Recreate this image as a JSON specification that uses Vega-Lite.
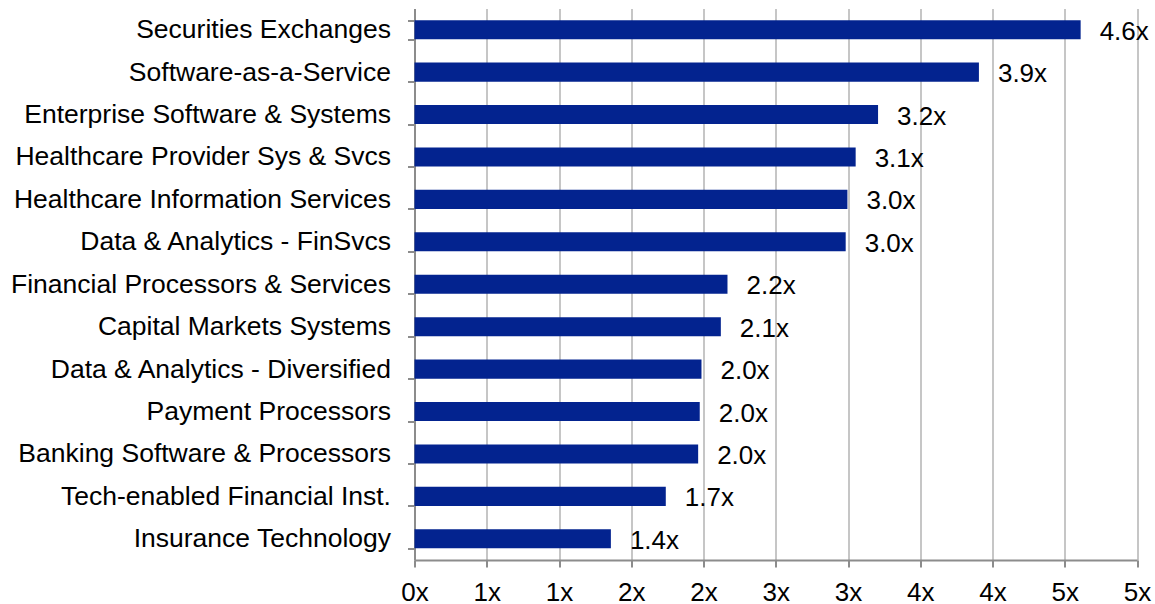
{
  "$schema": "https://vega.github.io/schema/vega-lite/v6.json",
  "autosize": {"type": "none"},
  "padding": {"left": 414.5, "top": 8.5, "right": 18, "bottom": 44},
  "width": 722.5,
  "height": 551.5,
  "background": "white",
  "config": {
    "view": {"stroke": null},
    "font": "Liberation Sans"
  },
  "data": {
    "values": [
      {"segment": "Securities Exchanges", "multiple": 4.61, "label": "4.6x"},
      {"segment": "Software-as-a-Service", "multiple": 3.906, "label": "3.9x"},
      {"segment": "Enterprise Software & Systems", "multiple": 3.208, "label": "3.2x"},
      {"segment": "Healthcare Provider Sys & Svcs", "multiple": 3.053, "label": "3.1x"},
      {"segment": "Healthcare Information Services", "multiple": 2.996, "label": "3.0x"},
      {"segment": "Data & Analytics - FinSvcs", "multiple": 2.984, "label": "3.0x"},
      {"segment": "Financial Processors & Services", "multiple": 2.166, "label": "2.2x"},
      {"segment": "Capital Markets Systems", "multiple": 2.12, "label": "2.1x"},
      {"segment": "Data & Analytics - Diversified", "multiple": 1.986, "label": "2.0x"},
      {"segment": "Payment Processors", "multiple": 1.974, "label": "2.0x"},
      {"segment": "Banking Software & Processors", "multiple": 1.963, "label": "2.0x"},
      {"segment": "Tech-enabled Financial Inst.", "multiple": 1.739, "label": "1.7x"},
      {"segment": "Insurance Technology", "multiple": 1.359, "label": "1.4x"}
    ]
  },
  "encoding": {
    "y": {
      "field": "segment",
      "type": "nominal",
      "sort": null,
      "title": null,
      "scale": {"paddingInner": 0.55, "paddingOuter": 0.275},
      "axis": {
        "domainColor": "#8c8c8c",
        "domainWidth": 2,
        "tickColor": "#8c8c8c",
        "tickWidth": 2,
        "tickSize": 7,
        "tickBand": "extent",
        "labelFont": "Liberation Sans",
        "labelFontSize": 26.5,
        "labelColor": "#000000",
        "labelPadding": 17,
        "labelLimit": 500,
        "grid": false
      }
    },
    "x": {
      "field": "multiple",
      "type": "quantitative",
      "title": null,
      "scale": {"domain": [0, 5], "nice": false, "zero": true},
      "axis": {
        "values": [0, 0.5, 1, 1.5, 2, 2.5, 3, 3.5, 4, 4.5, 5],
        "labelExpr": "round(datum.value) + 'x'",
        "domainColor": "#8c8c8c",
        "domainWidth": 2,
        "tickColor": "#8c8c8c",
        "tickWidth": 2,
        "tickSize": 7,
        "grid": true,
        "gridColor": "#c6c6c6",
        "gridWidth": 2,
        "labelFont": "Liberation Sans",
        "labelFontSize": 26,
        "labelColor": "#000000",
        "labelPadding": 12,
        "labelFlush": false,
        "labelOverlap": false
      }
    }
  },
  "layer": [
    {
      "mark": {"type": "bar", "color": "#03238F"}
    },
    {
      "mark": {
        "type": "text",
        "align": "left",
        "baseline": "alphabetic",
        "dx": 19,
        "dy": 10,
        "font": "Liberation Sans",
        "fontSize": 26,
        "color": "#000000"
      },
      "encoding": {"text": {"field": "label"}}
    }
  ]
}
